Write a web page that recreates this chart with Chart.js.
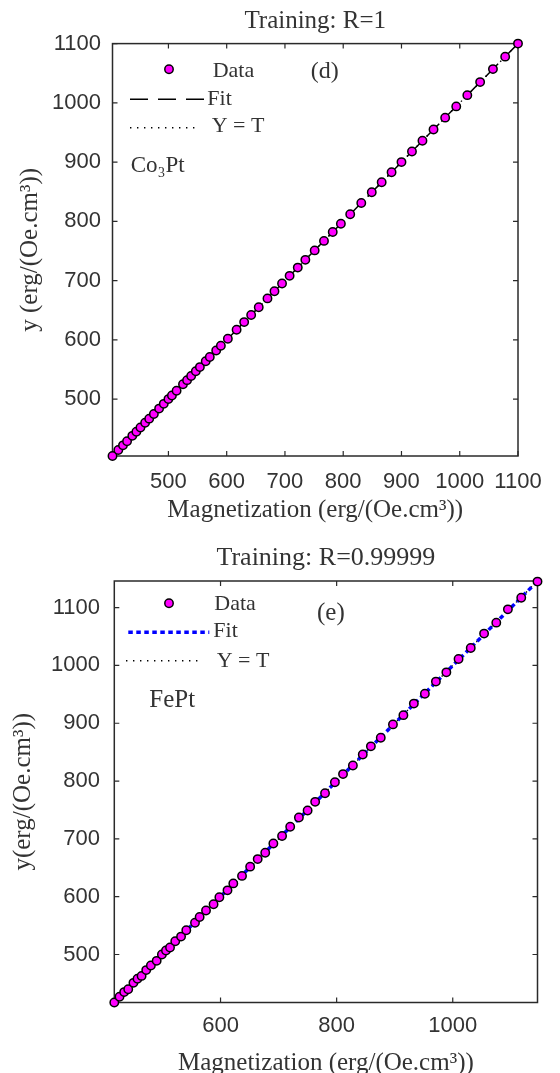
<!DOCTYPE html>
<html><head><meta charset="utf-8">
<script src="https://cdn.jsdelivr.net/npm/chart.js@4/dist/chart.umd.min.js"></script>
<style>
html,body{margin:0;padding:0;background:#fff;width:560px;height:1073px;overflow:hidden;}
.wrap{position:absolute;left:0;width:560px;}
#w1{top:0;height:535px;}
#w2{top:535px;height:538px;}
canvas{display:block;}
</style></head><body>
<div class="wrap" id="w1"><canvas id="c1" width="560" height="535"></canvas></div>
<div class="wrap" id="w2"><canvas id="c2" width="560" height="538"></canvas></div>
<script>
// ---------- (d) Co3Pt ----------
const coTargets = [404, 414, 422, 429, 438, 445, 452, 460, 467, 475, 484, 492, 500, 506, 514, 525, 532, 539, 547, 554,
  564, 571, 582, 590, 602, 617, 630, 642, 655, 670, 682, 695, 708, 722, 735, 751, 767, 782, 796, 812,
  831, 849, 866, 883, 900, 918, 936, 955, 975, 994, 1013, 1035, 1057, 1078, 1100];
const coOutputs = [404, 414, 422, 429, 438, 445, 452, 460, 467, 475, 484, 492, 500, 506, 514, 525, 532, 539, 547, 554,
  564, 571, 582, 590, 602, 617, 630, 642, 655, 670, 682, 695, 708, 722, 735, 751, 767, 782, 796, 812,
  831, 849, 866, 883, 900, 918, 936, 955, 975, 994, 1013, 1035, 1057, 1078, 1100];
const coFitT = [404, 1100];
const coFitY = [404, 1100];
const coRange = [404, 1100];
const coXTicks = [500, 600, 700, 800, 900, 1000, 1100];
const coYTicks = [500, 600, 700, 800, 900, 1000, 1100];

// ---------- (e) FePt ----------
const feTargets = [417, 426, 434, 441, 450, 457, 464, 472, 480, 490, 499, 506, 513, 522, 532, 541, 556, 564, 575, 588,
  598, 612, 622, 637, 651, 664, 677, 691, 706, 720, 735, 750, 763, 780, 797, 811, 828, 845, 859, 876,
  897, 915, 933, 952, 971, 989, 1010, 1031, 1054, 1075, 1095, 1118, 1146];
const feOutputs = [417, 427, 435, 440, 451, 458, 463, 473, 481, 489, 500, 507, 512, 523, 531, 542, 555, 565, 576, 587,
  599, 611, 623, 636, 652, 665, 676, 692, 705, 721, 737, 749, 764, 779, 798, 812, 827, 846, 860, 875,
  898, 914, 934, 951, 972, 988, 1011, 1030, 1055, 1074, 1097, 1117, 1145];
const feFitT = [417, 1146];
const feFitY = [417.4, 1145.6];
const feRange = [417, 1146];
const feXTicks = [600, 800, 1000];
const feYTicks = [500, 600, 700, 800, 900, 1000, 1100];

const SANS = "'Liberation Sans', Arial, Helvetica, sans-serif";
const SERIF = "'Liberation Serif', 'Times New Roman', Times, serif";
const TXT = '#333333';

const pairs = (a, b) => a.map((v, i) => ({x: v, y: b[i]}));

const annot = {
  id: 'annot',
  beforeDatasetsDraw(chart, args, o) {
    const {ctx, chartArea: a, scales: {x, y}} = chart;
    ctx.save();
    ctx.strokeStyle = '#2a2a2a';
    ctx.lineWidth = 1.5;
    ctx.strokeRect(a.left, a.top, a.right - a.left, a.bottom - a.top);
    ctx.lineWidth = 1.2;
    ctx.beginPath();
    x.ticks.forEach(t => {
      const p = x.getPixelForValue(t.value);
      ctx.moveTo(p, a.bottom); ctx.lineTo(p, a.bottom - 5);
      ctx.moveTo(p, a.top); ctx.lineTo(p, a.top + 5);
    });
    y.ticks.forEach(t => {
      const p = y.getPixelForValue(t.value);
      ctx.moveTo(a.left, p); ctx.lineTo(a.left + 5, p);
      ctx.moveTo(a.right, p); ctx.lineTo(a.right - 5, p);
    });
    ctx.stroke();
    ctx.restore();
  },
  afterDraw(chart, args, o) {
    const {ctx, chartArea: a} = chart;
    const ds = chart.data.datasets;
    ctx.save();
    ctx.fillStyle = TXT;
    ctx.textBaseline = 'middle';
    // title
    ctx.textAlign = 'center';
    ctx.font = o.titleSize + 'px ' + SERIF;
    ctx.fillText(o.title, (a.left + a.right) / 2, o.titleY);
    // legend: data marker
    ctx.textAlign = 'left';
    ctx.beginPath();
    ctx.arc(o.markerX, o.dataY, ds[0].pointRadius, 0, Math.PI * 2);
    ctx.fillStyle = ds[0].pointBackgroundColor;
    ctx.fill();
    ctx.lineWidth = ds[0].pointBorderWidth;
    ctx.strokeStyle = ds[0].pointBorderColor;
    ctx.stroke();
    // fit sample
    ctx.beginPath();
    ctx.setLineDash(ds[1].borderDash);
    ctx.lineWidth = ds[1].borderWidth;
    ctx.strokeStyle = ds[1].borderColor;
    ctx.moveTo(o.fitX0, o.fitY); ctx.lineTo(o.fitX1, o.fitY);
    ctx.stroke();
    // Y = T sample
    ctx.beginPath();
    ctx.setLineDash(ds[2].borderDash);
    ctx.lineWidth = ds[2].borderWidth;
    ctx.strokeStyle = ds[2].borderColor;
    ctx.moveTo(o.refX0, o.refY); ctx.lineTo(o.refX1, o.refY);
    ctx.stroke();
    ctx.setLineDash([]);
    // legend text
    ctx.fillStyle = TXT;
    ctx.font = o.legendSize + 'px ' + SERIF;
    ctx.fillText(ds[0].label, o.dataTextX, o.dataTextY);
    ctx.fillText(ds[1].label, o.fitTextX, o.fitTextY);
    ctx.fillText(ds[2].label, o.refTextX, o.refTextY);
    // annotations
    ctx.font = o.nameSize + 'px ' + SERIF;
    ctx.fillText(o.name, o.nameX, o.nameY);
    ctx.font = o.tagSize + 'px ' + SERIF;
    ctx.fillText(o.tag, o.tagX, o.tagY);
    ctx.restore();
  }
};

function makeChart(id, cfg) {
  const datasets = [
    {label: 'Data', data: pairs(cfg.targets, cfg.outputs), showLine: false, pointRadius: 4.2,
     pointBackgroundColor: '#ff00ff', pointBorderColor: '#000000', pointBorderWidth: 1.5,
     pointHoverRadius: 4.2, clip: false, order: 0},
    {label: 'Fit', data: pairs(cfg.fitT, cfg.fitY), showLine: true, borderColor: cfg.fitColor,
     borderWidth: cfg.fitWidth, borderDash: cfg.fitDash, pointRadius: 0, order: 1},
    {label: 'Y = T', data: pairs(cfg.range, cfg.range), showLine: true, borderColor: '#000000',
     borderWidth: 1.4, borderDash: [1.4, 5.6], pointRadius: 0, order: 2}
  ];
  return new Chart(document.getElementById(id), {
    type: 'scatter',
    data: {datasets},
    plugins: [annot],
    options: {
      responsive: false,
      animation: false,
      events: [],
      layout: {padding: {top: cfg.padTop, right: cfg.padRight, left: 0, bottom: 0}},
      plugins: {
        legend: {display: false},
        tooltip: {enabled: false},
        annot: cfg.annot
      },
      scales: {
        x: {
          type: 'linear', min: cfg.range[0], max: cfg.range[1],
          afterBuildTicks: s => { s.ticks = cfg.xTicks.map(v => ({value: v})); },
          afterFit: s => { s.height = cfg.xHeight; },
          grid: {display: false, drawTicks: false},
          border: {display: false},
          ticks: {padding: cfg.xTickPad, color: TXT, font: {family: SANS, size: 22},
                  maxRotation: 0, autoSkip: false, callback: v => String(v)},
          title: {display: true, text: 'Magnetization (erg/(Oe.cm³))', color: TXT,
                  font: {family: SERIF, size: 25}, padding: {top: 0, bottom: cfg.xTitlePad}}
        },
        y: {
          type: 'linear', min: cfg.range[0], max: cfg.range[1],
          afterBuildTicks: s => { s.ticks = cfg.yTicks.map(v => ({value: v})); },
          afterFit: s => { s.width = cfg.yWidth; },
          grid: {display: false, drawTicks: false},
          border: {display: false},
          ticks: {padding: cfg.yTickPad, color: TXT, font: {family: SANS, size: 22},
                  autoSkip: false, callback: v => String(v)},
          title: {display: true, text: cfg.yTitle, color: TXT,
                  font: {family: SERIF, size: 25}, padding: {top: cfg.yTitlePad, bottom: 0}}
        }
      }
    }
  });
}

makeChart('c1', {
  targets: coTargets, outputs: coOutputs, fitT: coFitT, fitY: coFitY, range: coRange,
  xTicks: coXTicks, yTicks: coYTicks,
  fitColor: '#000000', fitWidth: 1.5, fitDash: [18, 10],
  padTop: 43.6, padRight: 42, xHeight: 79, yWidth: 112.5,
  xTickPad: 12.6, yTickPad: 11.5, xTitlePad: 9.4, yTitlePad: 15,
  yTitle: 'y (erg/(Oe.cm³))',
  annot: {
    title: 'Training: R=1', titleSize: 25, titleY: 21.4,
    markerX: 169, dataY: 69.3, dataTextX: 212.7, dataTextY: 71,
    fitX0: 130, fitX1: 206, fitY: 99.3, fitTextX: 207.3, fitTextY: 99.7,
    refX0: 130, refX1: 200, refY: 127.7, refTextX: 211.7, refTextY: 126.7,
    legendSize: 22,
    name: 'Co₃Pt', nameSize: 23, nameX: 130.7, nameY: 165.8,
    tag: '(d)', tagSize: 24, tagX: 310.7, tagY: 71.4
  }
});

makeChart('c2', {
  targets: feTargets, outputs: feOutputs, fitT: feFitT, fitY: feFitY, range: feRange,
  xTicks: feXTicks, yTicks: feYTicks,
  fitColor: '#0000ff', fitWidth: 3.5, fitDash: [4.5, 3.5],
  padTop: 46, padRight: 22.5, xHeight: 70.5, yWidth: 114.3,
  xTickPad: 10.7, yTickPad: 14.3, xTitlePad: -5.6, yTitlePad: 8.5,
  yTitle: 'y(erg/(Oe.cm³))',
  annot: {
    title: 'Training: R=0.99999', titleSize: 26, titleY: 23.6,
    markerX: 169, dataY: 68.3, dataTextX: 214.3, dataTextY: 69,
    fitX0: 128.3, fitX1: 209.3, fitY: 97.3, fitTextX: 213.3, fitTextY: 96.3,
    refX0: 126, refX1: 199.3, refY: 125.7, refTextX: 216.7, refTextY: 125.8,
    legendSize: 22,
    name: 'FePt', nameSize: 25, nameX: 149.3, nameY: 165.8,
    tag: '(e)', tagSize: 25, tagX: 317, tagY: 78.2
  }
});
</script>
</body></html>
